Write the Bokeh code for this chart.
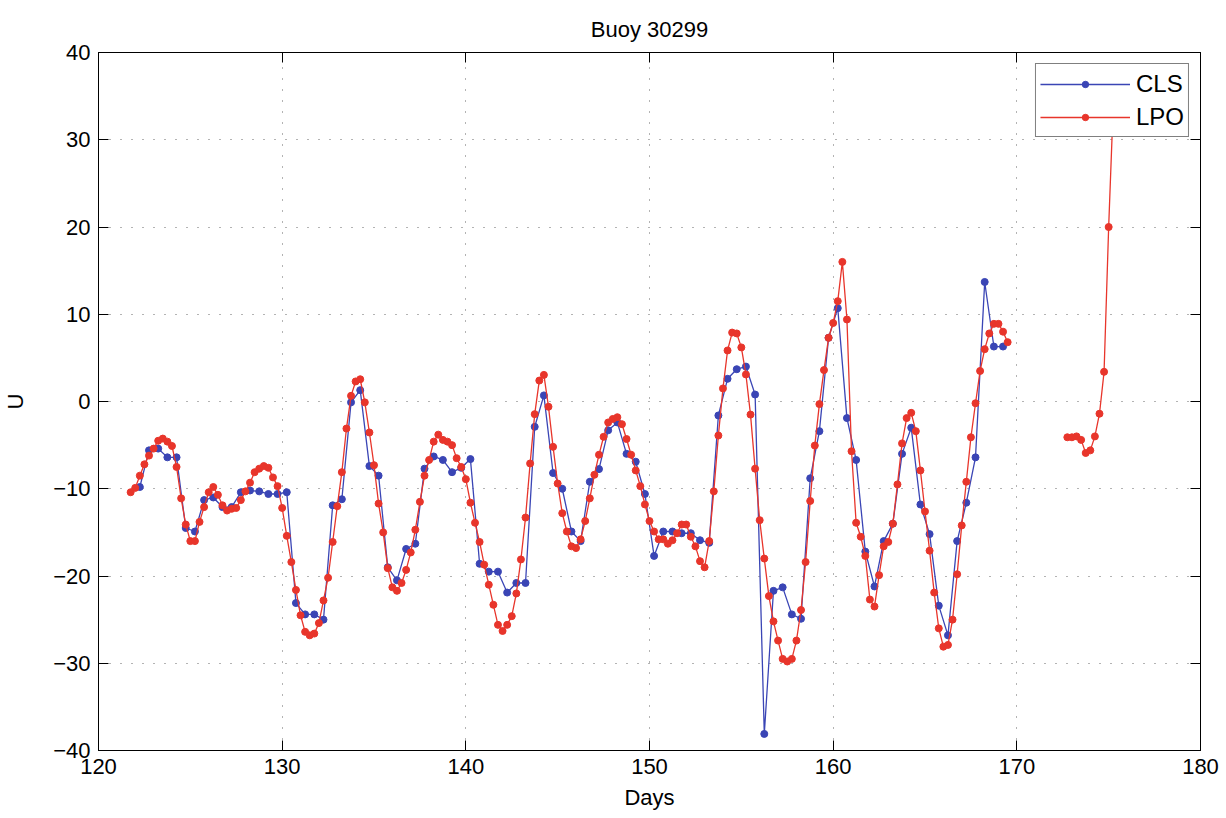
import math
from bokeh.plotting import figure
from bokeh.models import LinearAxis, Range1d, FixedTicker, Legend, LegendItem, CustomJSTickFormatter
from bokeh.embed import file_html
from bokeh.resources import INLINE

title_text = "Buoy 30299"
x_label = "Days"
y_label = "U"
x_ticks = [120, 130, 140, 150, 160, 170, 180]
y_ticks = [-40, -30, -20, -10, 0, 10, 20, 30, 40]

# CLS series
cls_days = [
    122.25, 122.75, 123.25, 123.75, 124.25, 124.75, 125.25, 125.75, 126.25, 126.75,
    127.25, 127.75, 128.25, 128.75, 129.25, 129.75, 130.25, 130.75, 131.25, 131.75,
    132.25, 132.75, 133.25, 133.75, 134.25, 134.75, 135.25, 135.75, 136.25, 136.75,
    137.25, 137.75, 138.25, 138.75, 139.25, 139.75, 140.25, 140.75, 141.25, 141.75,
    142.25, 142.75, 143.25, 143.75, 144.25, 144.75, 145.25, 145.75, 146.25, 146.75,
    147.25, 147.75, 148.25, 148.75, 149.25, 149.75, 150.25, 150.75, 151.25, 151.75,
    152.25, 152.75, 153.25, 153.75, 154.25, 154.75, 155.25, 155.75, 156.25, 156.75,
    157.25, 157.75, 158.25, 158.75, 159.25, 159.75, 160.25, 160.75, 161.25, 161.75,
    162.25, 162.75, 163.25, 163.75, 164.25, 164.75, 165.25, 165.75, 166.25, 166.75,
    167.25, 167.75, 168.25, 168.75, 169.25,
]
cls_u = [
    -9.8, -5.6, -5.4, -6.4, -6.4, -14.5, -14.9, -11.3, -11.0, -12.1,
    -12.1, -10.4, -10.2, -10.3, -10.6, -10.6, -10.4, -23.1, -24.4, -24.4,
    -25.0, -11.9, -11.2, -0.1, 1.3, -7.4, -8.5, -19.0, -20.5, -16.9,
    -16.3, -7.7, -6.3, -6.7, -8.1, -7.6, -6.6, -18.6, -19.5, -19.5,
    -21.9, -20.8, -20.8, -2.9, 0.7, -8.2, -10.0, -14.9, -16.0, -9.2,
    -7.75, -3.3, -2.4, -6.0, -6.9, -10.6, -17.7, -14.9, -14.9, -15.1,
    -15.1, -15.9, -16.2, -1.6, 2.6, 3.7, 4.0, 0.8, -38.1, -21.7,
    -21.3, -24.4, -24.9, -8.8, -3.4, 7.3, 10.7, -1.9, -6.7, -17.2,
    -21.2, -16.0, -14.0, -6.0, -3.0, -11.8, -15.2, -23.4, -26.8, -16.0,
    -11.6, -6.4, 13.7, 6.3, 6.3,
]

# LPO series, first segment
lpo_days = [
    121.75,
    122.0, 122.25, 122.5, 122.75, 123.0, 123.25, 123.5, 123.75,
    124.0, 124.25, 124.5, 124.75, 125.0, 125.25, 125.5, 125.75,
    126.0, 126.25, 126.5, 126.75, 127.0, 127.25, 127.5, 127.75,
    128.0, 128.25, 128.5, 128.75, 129.0, 129.25, 129.5, 129.75,
    130.0, 130.25, 130.5, 130.75, 131.0, 131.25, 131.5, 131.75,
    132.0, 132.25, 132.5, 132.75, 133.0, 133.25, 133.5, 133.75,
    134.0, 134.25, 134.5, 134.75, 135.0, 135.25, 135.5, 135.75,
    136.0, 136.25, 136.5, 136.75, 137.0, 137.25, 137.5, 137.75,
    138.0, 138.25, 138.5, 138.75, 139.0, 139.25, 139.5, 139.75,
    140.0, 140.25, 140.5, 140.75, 141.0, 141.25, 141.5, 141.75,
    142.0, 142.25, 142.5, 142.75, 143.0, 143.25, 143.5, 143.75,
    144.0, 144.25, 144.5, 144.75, 145.0, 145.25, 145.5, 145.75,
    146.0, 146.25, 146.5, 146.75, 147.0, 147.25, 147.5, 147.75,
    148.0, 148.25, 148.5, 148.75, 149.0, 149.25, 149.5, 149.75,
    150.0, 150.25, 150.5, 150.75, 151.0, 151.25, 151.5, 151.75,
    152.0, 152.25, 152.5, 152.75, 153.0, 153.25, 153.5, 153.75,
    154.0, 154.25, 154.5, 154.75, 155.0, 155.25, 155.5, 155.75,
    156.0, 156.25, 156.5, 156.75, 157.0, 157.25, 157.5, 157.75,
    158.0, 158.25, 158.5, 158.75, 159.0, 159.25, 159.5, 159.75,
    160.0, 160.25, 160.5, 160.75, 161.0, 161.25, 161.5, 161.75,
    162.0, 162.25, 162.5, 162.75, 163.0, 163.25, 163.5, 163.75,
    164.0, 164.25, 164.5, 164.75, 165.0, 165.25, 165.5, 165.75,
    166.0, 166.25, 166.5, 166.75, 167.0, 167.25, 167.5, 167.75,
    168.0, 168.25, 168.5, 168.75, 169.0, 169.25, 169.5,
]
lpo_u = [
    -10.4,
    -9.9, -8.5, -7.2, -6.2, -5.4, -4.5, -4.25, -4.6,
    -5.1, -7.5, -11.1, -14.1, -16.0, -16.0, -13.8, -12.1,
    -10.4, -9.8, -10.7, -11.9, -12.5, -12.3, -12.2, -11.3,
    -10.3, -9.3, -8.1, -7.7, -7.4, -7.6, -8.7, -9.7,
    -12.2, -15.4, -18.4, -21.6, -24.5, -26.4, -26.8, -26.6,
    -25.4, -22.8, -20.2, -16.1, -12.0, -8.1, -3.1, 0.65,
    2.3, 2.55, -0.1, -3.55, -7.3, -11.7, -15.0, -19.1,
    -21.3, -21.7, -20.8, -19.3, -17.3, -14.7, -11.5, -8.5,
    -6.7, -4.6, -3.8, -4.4, -4.6, -5.0, -6.5, -7.5,
    -8.9, -11.6, -13.9, -16.1, -18.7, -21.0, -23.3, -25.6,
    -26.3, -25.6, -24.6, -22.0, -18.1, -13.3, -7.1, -1.45,
    2.4, 3.05, -0.6, -5.2, -9.4, -12.8, -14.9, -16.6,
    -16.8, -15.8, -13.7, -11.1, -8.4, -6.1, -4.05, -2.4,
    -2.0, -1.8, -2.6, -4.3, -6.1, -7.9, -9.7, -11.8,
    -13.7, -14.9, -15.8, -15.8, -16.3, -15.9, -15.1, -14.1,
    -14.1, -15.5, -16.6, -18.3, -19.0, -16.0, -10.3, -3.9,
    1.5, 5.85, 7.9, 7.8, 6.2, 3.1, -1.5, -7.7,
    -13.6, -18.0, -22.3, -25.2, -27.4, -29.5, -29.8, -29.5,
    -27.4, -23.9, -18.4, -11.4, -5.05, -0.3, 3.6, 7.3,
    9.0, 11.5, 16.0, 9.4, -5.7, -13.9, -15.5, -17.7,
    -22.7, -23.5, -19.9, -16.6, -16.1, -14.0, -9.5, -4.8,
    -1.9, -1.3, -3.4, -7.9, -12.6, -17.1, -21.9, -26.0,
    -28.1, -27.9, -25.0, -19.8, -14.2, -9.2, -4.1, -0.2,
    3.5, 6.0, 7.8, 8.9, 8.9, 8.0, 6.8,
]

# LPO series, second segment (after the gap)
lpo2_days = [172.75, 173.0, 173.25, 173.5, 173.75, 174.0, 174.25, 174.5, 174.75, 175.0, 175.25]
lpo2_u = [-4.1, -4.1, -4.0, -4.4, -5.9, -5.6, -4.0, -1.4, 3.4, 20.0, 34.0]

FONT = "Liberation Sans"
BLUE = "#3a45b5"
RED = "#e8352b"

p = figure(
    width=1226, height=818,
    x_range=Range1d(120, 180), y_range=Range1d(-40, 40),
    output_backend="svg", toolbar_location=None,
    min_border_left=98, min_border_right=26, min_border_top=52, min_border_bottom=68,
    background_fill_color="white", border_fill_color="white",
)
p.outline_line_color = "black"
p.outline_line_width = 1

p.title.text = title_text
p.title.align = "center"
p.title.text_font = FONT
p.title.text_font_size = "22px"
p.title.text_font_style = "normal"
p.title.text_color = "black"
p.title.text_line_height = 1.0
p.title.standoff = 22

def style_axis(ax, show_labels):
    ax.major_tick_in = 10
    ax.major_tick_out = 0
    ax.minor_tick_in = 0
    ax.minor_tick_out = 0
    ax.axis_line_color = "black"
    ax.major_tick_line_color = "black"
    ax.axis_line_width = 1
    ax.major_label_text_font = FONT
    ax.major_label_text_font_size = "22px"
    ax.major_label_text_color = "black"
    ax.axis_label_text_font = FONT
    ax.axis_label_text_font_size = "22px"
    ax.axis_label_text_font_style = "normal"
    ax.axis_label_text_color = "black"
    if not show_labels:
        ax.formatter = CustomJSTickFormatter(code="return '';")
        ax.major_label_text_font_size = "1px"
        ax.major_label_standoff = 0

xb = p.xaxis[0]
xb.ticker = FixedTicker(ticks=x_ticks)
yl = p.yaxis[0]
yl.ticker = FixedTicker(ticks=y_ticks)
style_axis(xb, True)
style_axis(yl, True)
xb.axis_label = x_label
yl.axis_label = y_label
xb.major_label_standoff = 8
yl.major_label_standoff = 8
xb.axis_label_standoff = 8
yl.axis_label_standoff = 22

xt = LinearAxis(ticker=FixedTicker(ticks=x_ticks))
yr = LinearAxis(ticker=FixedTicker(ticks=y_ticks))
style_axis(xt, False)
style_axis(yr, False)
p.add_layout(xt, "above")
p.add_layout(yr, "right")

p.xgrid.ticker = FixedTicker(ticks=x_ticks)
p.ygrid.ticker = FixedTicker(ticks=y_ticks)
for g in (p.xgrid, p.ygrid):
    g.grid_line_color = "#666666"
    g.grid_line_dash = "1 10"
    g.grid_line_width = 1

nan = float("nan")
lpo_all_days = lpo_days + [nan] + lpo2_days
lpo_all_u = lpo_u + [nan] + lpo2_u

r1 = p.line(cls_days, cls_u, line_color=BLUE, line_width=1.3)
r2 = p.scatter(cls_days, cls_u, size=7, fill_color=BLUE, line_color=BLUE)
r3 = p.line(lpo_all_days, lpo_all_u, line_color=RED, line_width=1.3)
r4 = p.scatter(lpo_days + lpo2_days, lpo_u + lpo2_u, size=7, fill_color=RED, line_color=RED)

legend = Legend(items=[
    LegendItem(label="CLS", renderers=[r1, r2]),
    LegendItem(label="LPO", renderers=[r3, r4]),
], location="top_right")
legend.label_text_font = FONT
legend.label_text_font_size = "24px"
legend.label_text_color = "black"
legend.glyph_width = 90
legend.glyph_height = 16
legend.label_height = 31
legend.spacing = 2
legend.padding = 4
legend.margin = 11
legend.label_standoff = 6
legend.border_line_color = "black"
legend.border_line_width = 1.5
legend.background_fill_color = "white"
legend.background_fill_alpha = 1
p.add_layout(legend)

open("out.html", "w").write(file_html(p, INLINE))
